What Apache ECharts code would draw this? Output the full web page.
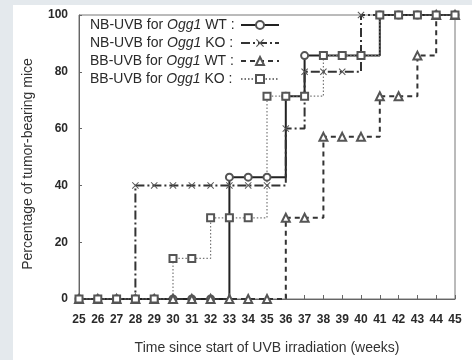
<!DOCTYPE html>
<html>
<head>
<meta charset="utf-8">
<script src="https://cdn.jsdelivr.net/npm/echarts@6/dist/echarts.min.js"></script>
<style>
  html, body { margin: 0; padding: 0; }
  .frame { position: relative; width: 472px; height: 360px; background: #e4e9ed; }
  #chart { position: absolute; left: 13px; top: 5px; width: 459px; height: 355px; background: #fff; }
</style>
</head>
<body>
<div class="frame"><div id="chart"></div></div>
<script>
// weeks since start of UVB irradiation
const weeks = [25, 26, 27, 28, 29, 30, 31, 32, 33, 34, 35, 36, 37, 38, 39, 40, 41, 42, 43, 44, 45];

// percentage of tumor-bearing mice per week
const nbWt = [0, 0, 0, 0, 0, 0, 0, 0, 42.9, 42.9, 42.9, 71.4, 85.7, 85.7, 85.7, 85.7, 100, 100, 100, 100, 100];
const nbKo = [0, 0, 0, 40, 40, 40, 40, 40, 40, 40, 40, 60, 80, 80, 80, 100, 100, 100, 100, 100, 100];
const bbWt = [0, 0, 0, 0, 0, 0, 0, 0, 0, 0, 0, 28.6, 28.6, 57.1, 57.1, 57.1, 71.4, 71.4, 85.7, 100, 100];
const bbKo = [0, 0, 0, 0, 0, 14.3, 14.3, 28.6, 28.6, 28.6, 71.4, 71.4, 71.4, 85.7, 85.7, 85.7, 100, 100, 100, 100, 100];

const yTicks = [0, 20, 40, 60, 80, 100];

const names = ['NB-UVB for Ogg1 WT', 'NB-UVB for Ogg1 KO', 'BB-UVB for Ogg1 WT', 'BB-UVB for Ogg1 KO'];

const toPairs = (vals) => weeks.map((w, i) => [w, vals[i]]);

const crossPath = 'path://M0,1L1,0L5,4L9,0L10,1L6,5L10,9L9,10L5,6L1,10L0,9L4,5Z';

const chart = echarts.init(document.getElementById('chart'));

const ink = '#2a2a2a';

chart.setOption({
    animation: false,
    textStyle: { fontFamily: 'Liberation Sans, Arial, sans-serif' },
    grid: {
        left: 59,
        right: 17,
        top: 10,
        bottom: 57,
        show: true,
        borderColor: '#777',
        borderWidth: 1
    },
    legend: {
        orient: 'vertical',
        left: 72,
        top: 8,
        align: 'right',
        itemWidth: 38,
        itemHeight: 10,
        itemGap: 4,
        data: names,
        formatter: (name) => {
            const parts = name.split('Ogg1');
            return '{n|' + parts[0] + '}{i|Ogg1}{n|' + parts[1] + ' :}';
        },
        textStyle: {
            width: 146,
            rich: {
                n: { fontSize: 14, color: ink, lineHeight: 14, align: 'left' },
                i: { fontSize: 14, color: ink, fontStyle: 'italic', lineHeight: 14, align: 'left' }
            }
        }
    },
    xAxis: {
        type: 'value',
        min: 25,
        max: 45,
        interval: 1,
        name: 'Time since start of UVB irradiation (weeks)',
        nameLocation: 'middle',
        nameGap: 42,
        nameTextStyle: { fontSize: 14, color: '#333' },
        axisLine: { show: true, lineStyle: { color: '#666' } },
        axisTick: { inside: true, length: 4, lineStyle: { color: '#666' } },
        axisLabel: { fontSize: 12, fontWeight: 'bold', color: ink, margin: 15 },
        splitLine: { show: false }
    },
    yAxis: {
        type: 'value',
        min: yTicks[0],
        max: yTicks[yTicks.length - 1],
        interval: 20,
        name: 'Percentage of tumor-bearing mice',
        nameLocation: 'middle',
        nameGap: 44,
        nameTextStyle: { fontSize: 14, color: '#333', padding: [0, 14, 0, 0] },
        axisLine: { show: true, lineStyle: { color: '#666' } },
        axisTick: { inside: true, length: 3, lineStyle: { color: '#666' } },
        axisLabel: { fontSize: 12, fontWeight: 'bold', color: ink, margin: 11 },
        splitLine: { show: false }
    },
    series: [
        {
            name: names[0],
            type: 'line',
            step: 'end',
            data: toPairs(nbWt),
            symbol: 'emptyCircle',
            symbolSize: 7,
            lineStyle: { color: '#222', width: 2 },
            itemStyle: { color: '#555', borderWidth: 1 }
        },
        {
            name: names[1],
            type: 'line',
            step: 'end',
            data: toPairs(nbKo),
            symbol: crossPath,
            symbolSize: 7,
            lineStyle: { color: '#333', width: 2, type: [9, 3, 2, 3] },
            itemStyle: { color: '#555' }
        },
        {
            name: names[2],
            type: 'line',
            step: 'end',
            data: toPairs(bbWt),
            symbol: 'emptyTriangle',
            symbolSize: 8,
            lineStyle: { color: '#333', width: 2, type: [5, 4] },
            itemStyle: { color: '#555', borderWidth: 1 }
        },
        {
            name: names[3],
            type: 'line',
            step: 'end',
            data: toPairs(bbKo),
            symbol: 'emptyRect',
            symbolSize: 7,
            lineStyle: { color: '#777', width: 1.2, type: [1.5, 2] },
            itemStyle: { color: '#555', borderWidth: 1.2 }
        }
    ]
});
</script>
</body>
</html>
